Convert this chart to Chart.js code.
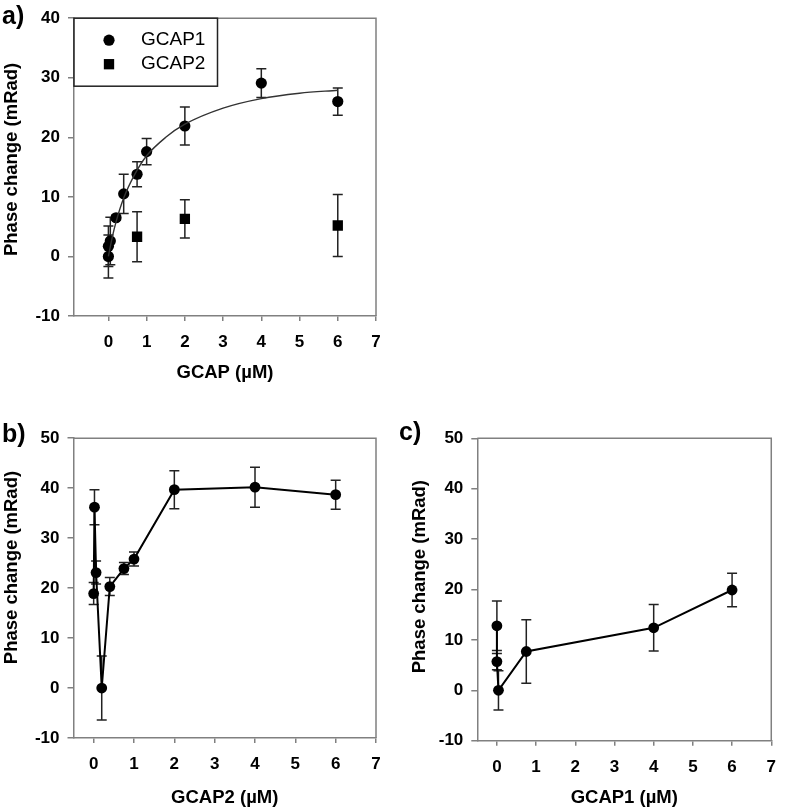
<!DOCTYPE html>
<html><head><meta charset="utf-8">
<script src="https://cdn.jsdelivr.net/npm/chart.js@4.4.1/dist/chart.umd.min.js"></script>
<style>
html,body{margin:0;padding:0;background:#fff;}
#wrap{position:relative;width:787px;height:812px;overflow:hidden;font-family:"Liberation Sans",Arial,sans-serif;}
canvas{position:absolute;}
.lbl{position:absolute;font-weight:bold;font-size:25px;line-height:25px;color:#000;}
</style></head><body>
<div id="wrap">
<canvas id="ca" width="400" height="400" style="left:0;top:0"></canvas>
<canvas id="cb" width="400" height="392" style="left:0;top:420px"></canvas>
<canvas id="cc" width="387" height="392" style="left:400px;top:420px"></canvas>
<div class="lbl" style="left:2px;top:3px">a)</div>
<div class="lbl" style="left:2px;top:421px">b)</div>
<div class="lbl" style="left:399px;top:419px">c)</div>
</div>
<script>
// ---- Panel a data ----
const xA1 = [0, 0, 0.05, 0.2, 0.4, 0.75, 1, 2, 4, 6];
const yA1 = [0, 1.7, 2.6, 6.5, 10.5, 13.8, 17.6, 21.9, 29.1, 26.0];
const eA1 = [3.6, 3.4, 4.0, 0.4, 3.3, 2.1, 2.2, 3.2, 2.4, 2.3];
const xA2 = [0.75, 2, 6];
const yA2 = [3.3, 6.3, 5.2];
const eA2 = [4.2, 3.2, 5.2];
const xFit = [0, 0.1, 0.2, 0.4, 0.7, 1, 1.5, 2, 3, 4, 5, 6];
const yFit = [0, 3.2, 5.8, 9.8, 13.9, 16.9, 20.0, 22.2, 24.9, 26.5, 27.4, 27.9];
// ---- Panel b data (GCAP2) ----
const xB = [0, 0.02, 0.06, 0.2, 0.4, 0.75, 1, 2, 4, 6];
const yB = [18.9, 36.2, 23.1, 0, 20.3, 23.9, 25.8, 39.7, 40.2, 38.7];
const eB = [2.2, 3.5, 2.3, 6.4, 1.8, 1.2, 1.4, 3.8, 4.0, 2.9];
// ---- Panel c data (GCAP1) ----
const xC = [0, 0, 0.04, 0.75, 4, 6];
const yC = [12.8, 5.7, 0, 7.7, 12.4, 19.9];
const eC = [4.9, 1.6, 3.9, 6.3, 4.6, 3.3];
// ---- tick values and labels ----
const xTickVals = [0, 1, 2, 3, 4, 5, 6, 7];
const yTitle = 'Phase change (mRad)';
const xTitleA = 'GCAP (µM)';
const xTitleB = 'GCAP2 (µM)';
const xTitleC = 'GCAP1 (µM)';
const legendLabels = ['GCAP1', 'GCAP2'];

const FONT = '"Liberation Sans", Arial, sans-serif';
const FRAME = '#808080';
const pts = (xs, ys) => xs.map((x, i) => ({x: x, y: ys[i]}));

const errFrame = {
  id: 'errFrame',
  beforeDatasetsDraw(chart) {
    const {ctx, scales: {x, y}} = chart;
    chart.data.datasets.forEach(ds => {
      if (!ds.errors) return;
      ctx.save();
      ctx.strokeStyle = '#222';
      ctx.lineWidth = 1.5;
      ds.data.forEach((p, j) => {
        const e = ds.errors[j];
        if (!e) return;
        const px = x.getPixelForValue(p.x);
        const y1 = y.getPixelForValue(p.y + e);
        const y2 = y.getPixelForValue(p.y - e);
        ctx.beginPath();
        ctx.moveTo(px, y1); ctx.lineTo(px, y2);
        ctx.moveTo(px - 5, y1); ctx.lineTo(px + 5, y1);
        ctx.moveTo(px - 5, y2); ctx.lineTo(px + 5, y2);
        ctx.stroke();
      });
      ctx.restore();
    });
  },
  afterDraw(chart) {
    const {ctx, chartArea: a} = chart;
    ctx.save();
    ctx.strokeStyle = FRAME;
    ctx.lineWidth = 1.5;
    ctx.beginPath();
    ctx.moveTo(a.left, a.top); ctx.lineTo(a.right, a.top); ctx.lineTo(a.right, a.bottom);
    ctx.stroke();
    ctx.restore();
  }
};

const insideLegend = {
  id: 'insideLegend',
  afterDraw(chart, args, opts) {
    if (!opts || !opts.show) return;
    const {ctx, chartArea: a} = chart;
    ctx.save();
    ctx.fillStyle = '#fff';
    ctx.fillRect(a.left, a.top, opts.w, opts.h);
    ctx.strokeStyle = '#222';
    ctx.lineWidth = 1.5;
    ctx.strokeRect(a.left, a.top, opts.w, opts.h);
    opts.items.forEach((it, k) => {
      const ds = chart.data.datasets[it];
      const cy = a.top + opts.rowY[k];
      ctx.fillStyle = '#000';
      Chart.helpers.drawPoint(ctx, {pointStyle: ds.pointStyle, radius: ds.pointRadius, rotation: 0, borderWidth: 0}, a.left + opts.markX, cy);
      ctx.fillStyle = '#000';
      ctx.font = '19px ' + FONT;
      ctx.textBaseline = 'middle';
      ctx.textAlign = 'left';
      ctx.fillText(ds.label, a.left + opts.textX, cy);
    });
    ctx.restore();
  }
};

function fixW(w) { return s => { s.width = w; }; }
function fixH(h) { return s => { s.height = h; }; }

function makeScales(o) {
  return {
    x: {
      type: 'linear', min: o.xmin, max: 7,
      ticks: {stepSize: 1, includeBounds: false, color: '#000', padding: 11, font: {family: FONT, size: 17, weight: 'bold'}, maxRotation: 0, autoSkip: false},
      afterBuildTicks: s => { s.ticks = xTickVals.map(v => ({value: v})); },
      grid: {drawOnChartArea: false, drawTicks: true, tickLength: 5, color: FRAME, lineWidth: 1.5},
      border: {display: true, color: FRAME, width: 1.5},
      title: {display: true, text: o.xTitle, color: '#000', font: {family: FONT, size: 18.5, weight: 'bold'}, padding: {top: 0, bottom: o.xtb}},
      afterFit: fixH(o.xh)
    },
    y: {
      type: 'linear', min: -10, max: o.ymax,
      ticks: {stepSize: 10, color: '#000', padding: 8, font: {family: FONT, size: 17, weight: 'bold'}},
      grid: {drawOnChartArea: false, drawTicks: true, tickLength: 6, color: FRAME, lineWidth: 1.5},
      border: {display: true, color: FRAME, width: 1.5},
      title: {display: true, text: o.yTitle, color: '#000', font: {family: FONT, size: 18.5, weight: 'bold'}, padding: {top: o.ytp, bottom: 0}},
      afterFit: fixW(o.yw)
    }
  };
}

const common = {
  responsive: false,
  animation: false,
  devicePixelRatio: 1,
  plugins: {legend: {display: false}, tooltip: {enabled: false}}
};

// Panel a
new Chart(document.getElementById('ca'), {
  type: 'scatter',
  data: {datasets: [
    {label: 'fit', data: pts(xFit, yFit), showLine: true, pointRadius: 0, borderColor: '#333', borderWidth: 1.4, cubicInterpolationMode: 'monotone', fill: false},
    {label: legendLabels[0], data: pts(xA1, yA1), errors: eA1, showLine: false, pointStyle: 'circle', pointRadius: 5.6, backgroundColor: '#000', borderColor: '#000', borderWidth: 0},
    {label: legendLabels[1], data: pts(xA2, yA2), errors: eA2, showLine: false, pointStyle: 'rect', pointRadius: 7.3, backgroundColor: '#000', borderColor: '#000', borderWidth: 0}
  ]},
  options: Object.assign({}, common, {
    layout: {padding: {top: 14, right: 24, left: 0, bottom: 0}},
    scales: makeScales({xmin: -0.9, ymax: 40, xTitle: xTitleA, yTitle: '   ' + yTitle, xh: 84, yw: 74, xtb: 16, ytp: 1}),
    plugins: Object.assign({}, common.plugins, {insideLegend: {show: true, w: 143.5, h: 68, items: [1, 2], rowY: [22, 46], markX: 35, textX: 67}})
  }),
  plugins: [errFrame, insideLegend]
});

// Panel b
new Chart(document.getElementById('cb'), {
  type: 'scatter',
  data: {datasets: [
    {label: 'GCAP2', data: pts(xB, yB), errors: eB, showLine: true, borderColor: '#000', borderWidth: 2, pointStyle: 'circle', pointRadius: 5.4, pointBackgroundColor: '#000', pointBorderWidth: 0}
  ]},
  options: Object.assign({}, common, {
    layout: {padding: {top: 17, right: 24, left: 0, bottom: 0}},
    scales: makeScales({xmin: -0.5, ymax: 50, xTitle: xTitleB, yTitle: '        ' + yTitle, xh: 74, yw: 73.5, xtb: 3, ytp: 1})
  }),
  plugins: [errFrame]
});

// Panel c
new Chart(document.getElementById('cc'), {
  type: 'scatter',
  data: {datasets: [
    {label: 'GCAP1', data: pts(xC, yC), errors: eC, showLine: true, borderColor: '#000', borderWidth: 2, pointStyle: 'circle', pointRadius: 5.4, pointBackgroundColor: '#000', pointBorderWidth: 0}
  ]},
  options: Object.assign({}, common, {
    layout: {padding: {top: 18.3, right: 6.3, left: 0, bottom: 0}},
    scales: makeScales({xmin: -0.5, ymax: 50, xTitle: xTitleC, yTitle: '     ' + yTitle, xh: 71.3, yw: 77.3, xtb: 3, ytp: 9})
  }),
  plugins: [errFrame]
});
</script>
</body></html>
